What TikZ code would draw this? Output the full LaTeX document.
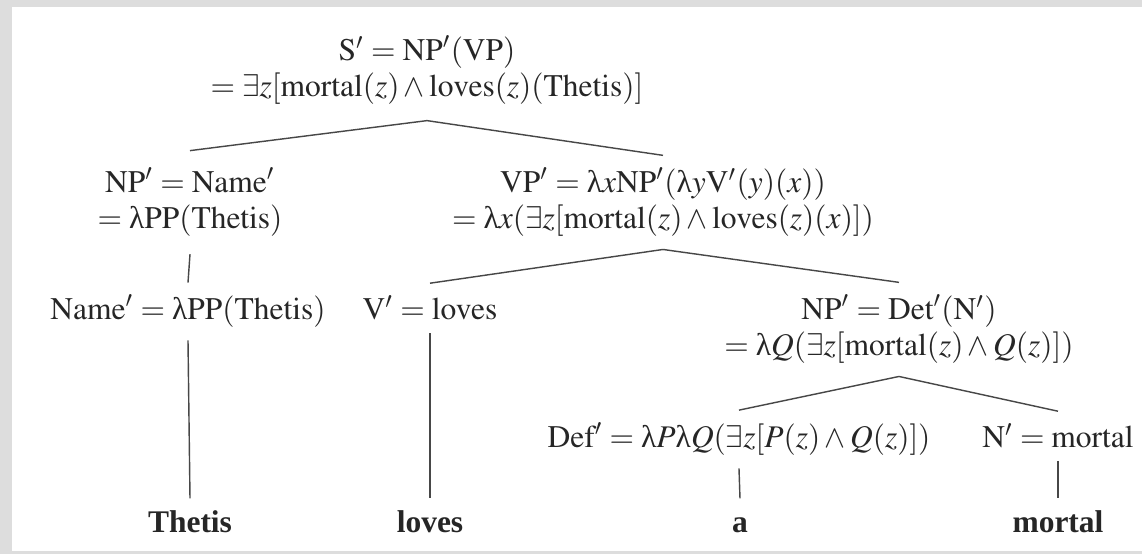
\documentclass[tikz,border=0pt]{standalone}
\usepackage{amsmath}
\usepackage{mathptmx}
\usepackage[no-math]{fontspec}
\setmainfont{Liberation Serif}
\usepackage{tikz}
\definecolor{PanelGray}{RGB}{221,221,221}
\definecolor{InkGray}{RGB}{38,38,38}
\newcommand{\lam}{\text{λ}}

\begin{document}
\begin{tikzpicture}[x=0.3175pt, y=-0.3175pt, font=\fontsize{10}{11.5}\selectfont,
    sem/.style={align=center, inner sep=0pt, outer xsep=0pt, outer ysep=4pt, anchor=base, text=InkGray},
    leaf/.style={sem, text height=7pt, text depth=0pt, font=\fontsize{10}{11.5}\selectfont\bfseries},
    edge/.style={InkGray!85, line width=0.45pt}]
    % 背景与白色画板
    \fill[PanelGray] (0,0) rectangle (1142,554);
    \fill[white] (12,7) rectangle (1142,551);

    % 1. 根节点 S' (两行节点以末行基线定位)
    \node[sem, outer ysep=5pt] (root) at (427,97) {$\mathrm{S}'=\mathrm{NP}'(\mathrm{VP})$\\
        $=\exists z[\mathrm{mortal}(z)\wedge\mathrm{loves}(z)(\mathrm{Thetis})]$};

    % 2. 第二层: NP' 与 VP'
    \node[sem, outer ysep=5.5pt] (np) at (190,229) {$\mathrm{NP}'=\mathrm{Name}'$\\ $=\lam\mathrm{PP}(\mathrm{Thetis})$};
    \node[sem] (vp) at (663,229) {$\mathrm{VP}'=\lam x\mathrm{NP}'(\lam y\mathrm{V}'(y)(x))$\\
        $=\lam x(\exists z[\mathrm{mortal}(z)\wedge\mathrm{loves}(z)(x)])$};

    % 3. 第三层: Name', V', NP'
    \node[sem] (name) at (188,320) {$\mathrm{Name}'=\lam\mathrm{PP}(\mathrm{Thetis})$};
    \node[sem] (verb) at (430,320) {$\mathrm{V}'=\mathrm{loves}$};
    \node[sem] (npdet) at (899,356) {$\mathrm{NP}'=\mathrm{Det}'(\mathrm{N}')$\\
        $=\lam Q(\exists z[\mathrm{mortal}(z)\wedge Q(z)])$};

    % 4. 第四层: Def' 与 N'
    \node[sem] (det) at (739,448) {$\mathrm{Def}'=\lam P\lam Q(\exists z[P(z)\wedge Q(z)])$};
    \node[sem] (noun) at (1058,448) {$\mathrm{N}'=\mathrm{mortal}$};

    % 5. 叶子 (粗体词)
    \node[leaf] (thetis) at (190,533) {Thetis};
    \node[leaf] (loves) at (430,533) {loves};
    \node[leaf] (a) at (740,533) {a};
    \node[leaf] (mortal) at (1058,533) {mortal};

    % 树枝
    \draw[edge] (root.south) -- (np.north);
    \draw[edge] (root.south) -- (vp.north);
    \draw[edge] (np.south) -- (name.north);
    \draw[edge] (vp.south) -- (verb.north);
    \draw[edge] (vp.south) -- (npdet.north);
    \draw[edge] (npdet.south) -- (det.north);
    \draw[edge] (npdet.south) -- (noun.north);
    \draw[edge] (name.south) -- (thetis.north);
    \draw[edge] (verb.south) -- (loves.north);
    \draw[edge] (det.south) -- (a.north);
    \draw[edge] (noun.south) -- (mortal.north);
\end{tikzpicture}
\end{document}
